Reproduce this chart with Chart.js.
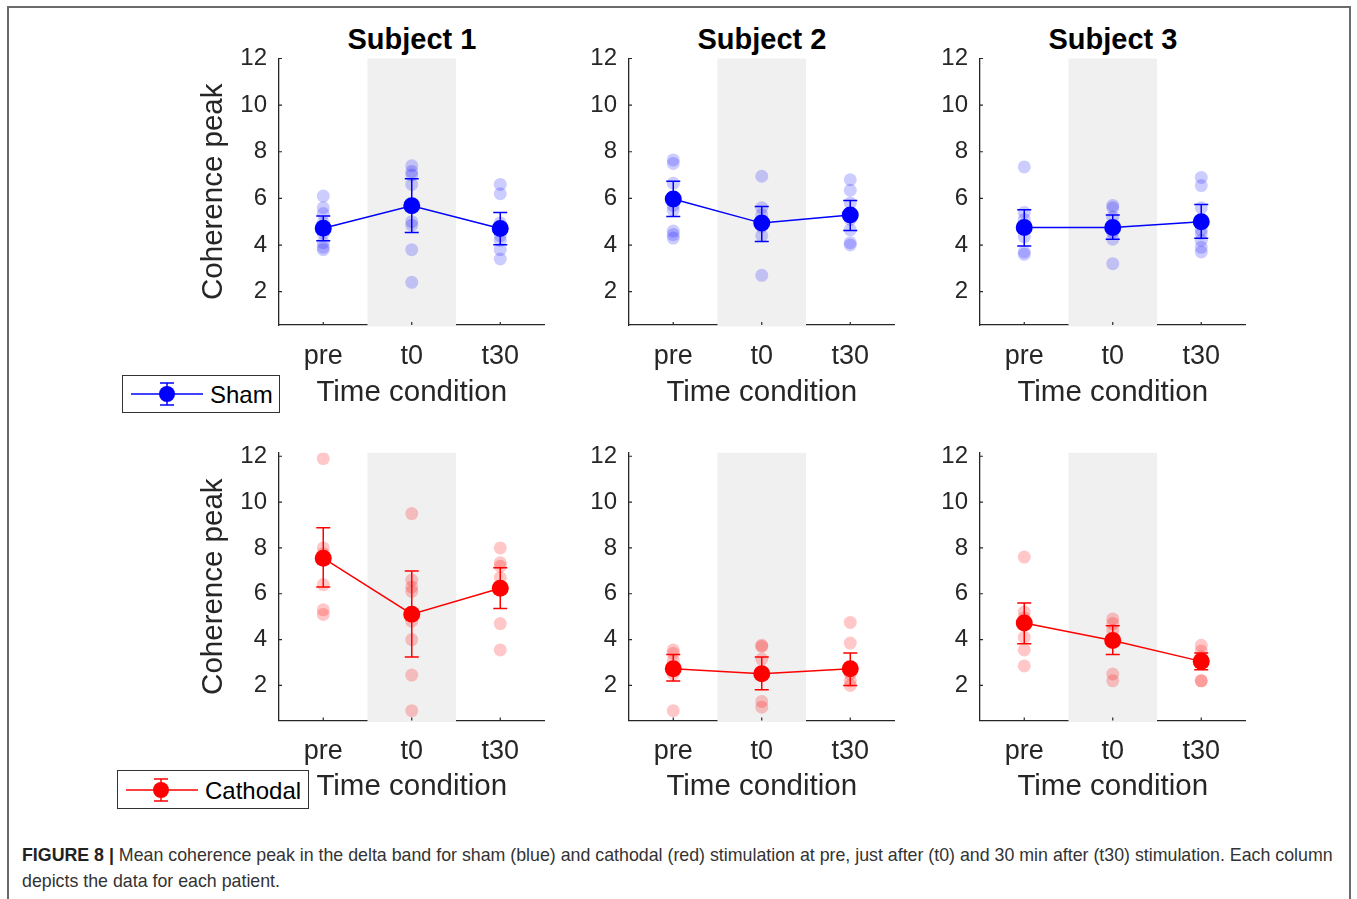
<!DOCTYPE html>
<html>
<head>
<meta charset="utf-8">
<script src="https://cdn.jsdelivr.net/npm/chart.js@4"></script>
<style>
  body { margin: 0; background: #fff; font-family: 'Liberation Sans', Arial, sans-serif; }
  #page { position: relative; width: 1357px; height: 899px; overflow: hidden; }
  #frame { position: absolute; left: 7px; top: 6px; width: 1340px; height: 920px; border: 2px solid #6a6a6a; }
  canvas { position: absolute; }
  .subj { position: absolute; width: 300px; text-align: center; font: bold 29px 'Liberation Sans', Arial, sans-serif; color: #000; line-height: 29px; }
  .legend { position: absolute; border: 1.3px solid #333; background: #fff; box-sizing: border-box; }
  .legend svg { position: absolute; left: 0; top: 0; }
  .legend span { position: absolute; font-size: 24px; color: #000; line-height: 24px; }
  #caption { position: absolute; left: 22px; top: 843px; width: 1330px; font-size: 17.8px; line-height: 25.5px; color: #333; white-space: nowrap; }
  #caption b { color: #222; }
</style>
</head>
<body>
<div id="page">
  <div id="frame"></div>
  <div class="subj" style="left:262px;top:25px">Subject 1</div>
  <div class="subj" style="left:612px;top:25px">Subject 2</div>
  <div class="subj" style="left:963px;top:25px">Subject 3</div>

  <div class="legend" style="left:122px;top:375px;width:158px;height:38px">
    <svg width="90" height="36">
      <line x1="8" y1="18" x2="80" y2="18" stroke="#0000ff" stroke-width="1.5"/>
      <line x1="44" y1="7" x2="44" y2="29" stroke="#0000ff" stroke-width="1.5"/>
      <line x1="37" y1="7" x2="51" y2="7" stroke="#0000ff" stroke-width="1.5"/>
      <line x1="37" y1="29" x2="51" y2="29" stroke="#0000ff" stroke-width="1.5"/>
      <circle cx="44" cy="18" r="8" fill="#0000ff"/>
    </svg>
    <span style="left:87px;top:7px">Sham</span>
  </div>

  <div class="legend" style="left:117px;top:770px;width:192px;height:39px">
    <svg width="90" height="38">
      <line x1="8" y1="19" x2="80" y2="19" stroke="#ff0000" stroke-width="1.5"/>
      <line x1="43" y1="8" x2="43" y2="30" stroke="#ff0000" stroke-width="1.5"/>
      <line x1="36" y1="8" x2="50" y2="8" stroke="#ff0000" stroke-width="1.5"/>
      <line x1="36" y1="30" x2="50" y2="30" stroke="#ff0000" stroke-width="1.5"/>
      <circle cx="43" cy="19" r="8" fill="#ff0000"/>
    </svg>
    <span style="left:87px;top:8px">Cathodal</span>
  </div>

  <div id="caption"><b>FIGURE 8 |</b> Mean coherence peak in the delta band for sham (blue) and cathodal (red) stimulation at pre, just after (t0) and 30 min after (t30) stimulation. Each column<br>depicts the data for each patient.</div>
</div>

<script>
// categories and ticks
const timeLabels = ['pre', 't0', 't30'];
const yTicks = [2, 4, 6, 8, 10, 12];

// sham (blue) - single values per condition
const shamS1 = [[6.1, 5.6, 5.35, 4.95, 4.5, 4.1, 3.9, 3.8], [7.4, 7.15, 7.0, 6.6, 5.0, 4.85, 3.8, 2.4], [6.6, 6.2, 4.95, 4.75, 4.4, 4.2, 3.8, 3.4]];
const shamS2 = [[7.65, 7.5, 6.65, 5.7, 5.5, 4.6, 4.45, 4.3], [6.95, 5.6, 5.3, 4.8, 4.4, 2.7], [6.8, 6.35, 5.8, 5.1, 4.65, 4.1, 4.0]];
const shamS3 = [[7.35, 5.4, 5.1, 4.35, 3.7, 3.6], [5.7, 5.6, 5.2, 4.55, 4.25, 3.2], [6.9, 6.55, 5.6, 4.65, 4.5, 4.2, 3.9, 3.7]];
// sham means and error bar limits
const shamS1Mean = [4.72, 5.68, 4.71], shamS1Lo = [4.18, 4.54, 4.01], shamS1Hi = [5.25, 6.84, 5.40];
const shamS2Mean = [5.97, 4.94, 5.29], shamS2Lo = [5.22, 4.15, 4.62], shamS2Hi = [6.73, 5.65, 5.91];
const shamS3Mean = [4.75, 4.75, 5.0], shamS3Lo = [3.96, 4.25, 4.29], shamS3Hi = [5.51, 5.29, 5.74];

// cathodal (red)
const cathS1 = [[11.9, 8.0, 7.75, 7.5, 6.4, 5.3, 5.1], [9.5, 6.6, 6.3, 6.1, 4.8, 4.0, 2.45, 0.9], [8.0, 7.35, 7.2, 6.7, 6.25, 4.7, 3.55]];
const cathS2 = [[3.55, 3.4, 3.1, 2.5, 0.9], [3.75, 3.7, 3.15, 1.3, 1.05], [4.75, 3.85, 2.5, 2.2, 2.0]];
const cathS3 = [[7.6, 5.2, 4.95, 4.1, 3.55, 2.85], [4.9, 4.7, 4.4, 4.0, 2.5, 2.2], [3.75, 3.5, 3.25, 2.2, 2.2]];
const cathS1Mean = [7.55, 5.11, 6.24], cathS1Lo = [6.29, 3.24, 5.36], cathS1Hi = [8.88, 6.99, 7.13];
const cathS2Mean = [2.73, 2.51, 2.73], cathS2Lo = [2.19, 1.81, 2.0], cathS2Hi = [3.35, 3.24, 3.41];
const cathS3Mean = [4.72, 3.96, 3.05], cathS3Lo = [3.82, 3.35, 2.68], cathS3Hi = [5.6, 4.6, 3.41];

// axis limits per row
const shamRange = [0.57, 12];
const cathRange = [0.47, 12.15];

// panel geometry (pixel placement of the plot boxes)
const colLeft = [279, 629, 980];
const colRight = [545, 895, 1246];
const rowTop = [58.5, 452.3];
const rowBottom = [325, 720];
const rowCanvasTop = [0, 393.5];
const canvasH = 420;
const axisColor = '#262626';
const fontFam = "'Liberation Sans', Arial, sans-serif";

// gray band at t0, error bars and inward ticks
const panelPlugin = {
    id: 'panelExtras',
    beforeDatasetsDraw(chart, args, opts) {
        const { ctx, chartArea } = chart;
        const xs = chart.scales.x, ys = chart.scales.y;
        const half = (xs.getPixelForValue(1) - xs.getPixelForValue(0)) / 2;
        const cx = xs.getPixelForValue(1);
        ctx.save();
        ctx.fillStyle = '#f0f0f0';
        ctx.fillRect(cx - half, chartArea.top, half * 2, chartArea.bottom - chartArea.top + 1.5);

        // small inward ticks
        ctx.strokeStyle = axisColor;
        ctx.lineWidth = 1.2;
        ctx.beginPath();
        yTicks.forEach(v => {
            const y = ys.getPixelForValue(v);
            ctx.moveTo(chartArea.left, y);
            ctx.lineTo(chartArea.left + 3, y);
        });
        timeLabels.forEach((l, i) => {
            const x = xs.getPixelForValue(i);
            ctx.moveTo(x, chartArea.bottom);
            ctx.lineTo(x, chartArea.bottom - 3);
        });
        ctx.stroke();

        // error bars
        ctx.strokeStyle = opts.color;
        ctx.lineWidth = 1.5;
        ctx.beginPath();
        opts.lo.forEach((lo, i) => {
            const x = xs.getPixelForValue(i);
            const y0 = ys.getPixelForValue(lo);
            const y1 = ys.getPixelForValue(opts.hi[i]);
            ctx.moveTo(x, y0); ctx.lineTo(x, y1);
            ctx.moveTo(x - 7, y0); ctx.lineTo(x + 7, y0);
            ctx.moveTo(x - 7, y1); ctx.lineTo(x + 7, y1);
        });
        ctx.stroke();
        ctx.restore();
    }
};

function makePanel(row, col, points, means, lo, hi, range, color, lightColor) {
    const canvas = document.createElement('canvas');
    const left = colLeft[col] - 85;
    const w = colRight[col] + 8 - left;
    const top = rowCanvasTop[row];
    canvas.width = w;
    canvas.height = canvasH;
    canvas.style.left = left + 'px';
    canvas.style.top = top + 'px';
    canvas.style.width = w + 'px';
    canvas.style.height = canvasH + 'px';
    document.getElementById('page').appendChild(canvas);

    const pts = points.flatMap((vals, i) => vals.map(v => ({ x: timeLabels[i], y: v })));
    const xHeight = top + canvasH - rowBottom[row];

    new Chart(canvas.getContext('2d'), {
        type: 'line',
        data: {
            labels: timeLabels,
            datasets: [
                {
                    data: means,
                    borderColor: color,
                    borderWidth: 1.5,
                    pointRadius: 8.5,
                    pointBackgroundColor: color,
                    pointBorderWidth: 0,
                    tension: 0
                },
                {
                    data: pts,
                    showLine: false,
                    pointRadius: 6.5,
                    pointBackgroundColor: lightColor,
                    pointBorderWidth: 0
                }
            ]
        },
        options: {
            responsive: false,
            animation: false,
            events: [],
            layout: { padding: { top: rowTop[row] - top, left: 0, right: 8, bottom: 0 } },
            plugins: {
                legend: { display: false },
                tooltip: { enabled: false },
                panelExtras: { lo: lo, hi: hi, color: color }
            },
            scales: {
                x: {
                    type: 'category',
                    offset: true,
                    grid: { drawOnChartArea: false, drawTicks: false },
                    border: { display: true, color: axisColor, width: 1.3 },
                    ticks: { color: axisColor, padding: 15, font: { family: fontFam, size: 27 } },
                    title: {
                        display: true, text: 'Time condition', color: axisColor,
                        font: { family: fontFam, size: 29.5 }, padding: { top: 0, bottom: 9 }
                    },
                    afterFit: s => { s.height = xHeight; }
                },
                y: {
                    min: range[0],
                    max: range[1],
                    grid: { drawOnChartArea: false, drawTicks: false },
                    border: { display: true, color: axisColor, width: 1.3 },
                    ticks: { color: axisColor, padding: 12, font: { family: fontFam, size: 24 } },
                    afterBuildTicks: s => { s.ticks = yTicks.map(v => ({ value: v })); },
                    title: {
                        display: col === 0, text: 'Coherence peak', color: axisColor,
                        font: { family: fontFam, size: 29.5 }, padding: { top: 2, bottom: 0 }
                    },
                    afterFit: s => { s.width = 85; }
                }
            }
        },
        plugins: [panelPlugin]
    });
}

const blue = '#0000ff', blueLight = 'rgba(0, 0, 255, 0.2)';
const red = '#ff0000', redLight = 'rgba(255, 0, 0, 0.22)';

makePanel(0, 0, shamS1, shamS1Mean, shamS1Lo, shamS1Hi, shamRange, blue, blueLight);
makePanel(0, 1, shamS2, shamS2Mean, shamS2Lo, shamS2Hi, shamRange, blue, blueLight);
makePanel(0, 2, shamS3, shamS3Mean, shamS3Lo, shamS3Hi, shamRange, blue, blueLight);
makePanel(1, 0, cathS1, cathS1Mean, cathS1Lo, cathS1Hi, cathRange, red, redLight);
makePanel(1, 1, cathS2, cathS2Mean, cathS2Lo, cathS2Hi, cathRange, red, redLight);
makePanel(1, 2, cathS3, cathS3Mean, cathS3Lo, cathS3Hi, cathRange, red, redLight);
</script>
</body>
</html>
